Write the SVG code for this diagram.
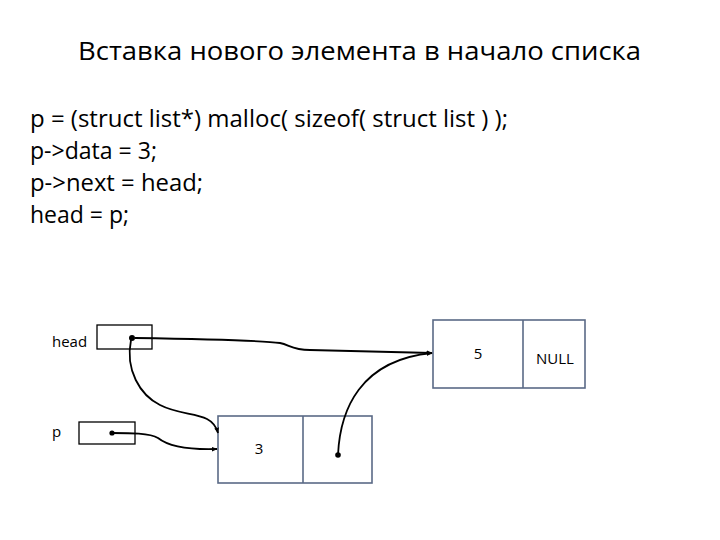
<svg xmlns="http://www.w3.org/2000/svg" width="720" height="540" viewBox="0 0 720 540">
<style>
text{font-family:"Open Sans","Liberation Sans",sans-serif;fill:#000}
.title{font-size:26px}
.code{font-size:23px}
.lbl{font-size:15px}
.ptr{fill:#fff;stroke:#000;stroke-width:1.3}
.node{fill:#fff;stroke:#5a6a86;stroke-width:1.6}
.c{fill:none;stroke:#000;stroke-width:1.8}
</style>
<defs>
<marker id="ah" viewBox="0 0 10 10" refX="9" refY="5" markerWidth="6" markerHeight="6" orient="auto" markerUnits="userSpaceOnUse"><path d="M0,1 L10,5 L0,9 z" fill="#000"/></marker>
</defs>
<rect width="720" height="540" fill="#fff"/>
<text class="title" x="78" y="60" textLength="563" lengthAdjust="spacingAndGlyphs">Вставка нового элемента в начало списка</text>
<g id="code">
<text class="code" x="30" y="127" textLength="478" lengthAdjust="spacingAndGlyphs">p = (struct list*) malloc( sizeof( struct list ) );</text>
<text class="code" x="30" y="159" textLength="127" lengthAdjust="spacingAndGlyphs">p-&gt;data = 3;</text>
<text class="code" x="30" y="191" textLength="173" lengthAdjust="spacingAndGlyphs">p-&gt;next = head;</text>
<text class="code" x="30" y="223" textLength="99" lengthAdjust="spacingAndGlyphs">head = p;</text>
</g>
<g id="head">
<text class="lbl" x="52" y="347">head</text>
<rect class="ptr" x="97" y="325" width="55" height="24"/>
<circle cx="132" cy="338" r="3"/>
</g>
<g id="p">
<text class="lbl" x="52" y="437">p</text>
<rect class="ptr" x="79" y="422" width="56" height="22"/>
<circle cx="112" cy="433" r="2.6"/>
</g>
<g id="node3">
<rect class="node" x="218" y="416" width="154" height="67"/>
<line class="node" x1="303" y1="416" x2="303" y2="483"/>
<text class="lbl" x="259" y="454" text-anchor="middle">3</text>
<circle cx="338" cy="455" r="2.8"/>
</g>
<g id="node5">
<rect class="node" x="433" y="320" width="152" height="68"/>
<line class="node" x1="523" y1="320" x2="523" y2="388"/>
<text class="lbl" x="478" y="359" text-anchor="middle">5</text>
<text class="lbl" x="555" y="364" text-anchor="middle" font-size="14">NULL</text>
</g>
<g id="connectors">
<path class="c" d="M135,338 C200,339 260,340 280,343 C290,345 292,350 310,350 L432,353" marker-end="url(#ah)"/>
<path class="c" d="M131,340 C125,370 140,395 160,405 C185,418 212,410 218,433" marker-end="url(#ah)"/>
<path class="c" d="M112,433 C130,433 150,433 158,438 C168,446 185,450 217,449" marker-end="url(#ah)"/>
<path class="c" d="M338,455 C340,410 360,360 432,353" marker-end="url(#ah)"/>
</g>
</svg>
